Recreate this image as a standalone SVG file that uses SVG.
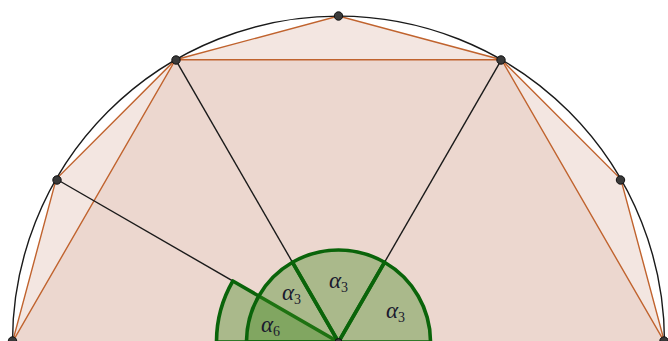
<svg xmlns="http://www.w3.org/2000/svg" width="668" height="341" viewBox="0 0 668 341">
<style>
.edge{stroke:#c0632e;stroke-width:1.4;fill:none}
.radius{stroke:#1a1a1a;stroke-width:1.4;fill:none}
.sector{fill:#3e8a1e;fill-opacity:0.38;stroke:#0a640a;stroke-width:3.6;stroke-linejoin:round}
.pt{fill:#3a3a3a;stroke:#111;stroke-width:1}
.lbl{font-family:"Liberation Serif","DejaVu Serif",serif;font-style:italic;font-size:23px;fill:#1a1a2e}
.sub{font-size:14px;font-style:normal}
</style>
<rect width="668" height="341" fill="#ffffff"/>
<g id="dodecagon">
<polygon points="12.5,342 56.2,179 175.5,59.7 338.5,16 501.5,59.7 620.8,179 664.5,342" fill="#f3e6e1"/>
</g>
<g id="hexagon">
<polygon points="12.5,342 175.5,59.7 501.5,59.7 664.5,342" fill="#ecd7cf"/>
</g>
<g id="connectors">
<polyline class="edge" points="12.5,342 56.2,179 175.5,59.7 338.5,16 501.5,59.7 620.8,179 664.5,342"/>
<polyline class="edge" points="12.5,342 175.5,59.7 501.5,59.7 664.5,342"/>
<path d="M12.5,342 A326,326 0 0 1 664.5,342" fill="none" stroke="#1a1a1a" stroke-width="1.4"/>
<line class="radius" x1="338.5" y1="342" x2="56.2" y2="179"/>
<line class="radius" x1="338.5" y1="342" x2="175.5" y2="59.7"/>
<line class="radius" x1="338.5" y1="342" x2="501.5" y2="59.7"/>
</g>
<g id="sector-a6">
<path class="sector" d="M338.5,342 L232.85,281 A122,122 0 0 0 216.5,342 Z"/>
</g>
<g id="sector-a3-left">
<path class="sector" d="M338.5,342 L292.5,262.3 A92,92 0 0 0 246.5,342 Z"/>
</g>
<g id="sector-a3-mid">
<path class="sector" d="M338.5,342 L384.5,262.3 A92,92 0 0 0 292.5,262.3 Z"/>
</g>
<g id="sector-a3-right">
<path class="sector" d="M338.5,342 L430.5,342 A92,92 0 0 0 384.5,262.3 Z"/>
</g>
<g id="labels">
<text class="lbl" x="282" y="300">α<tspan class="sub" dy="4">3</tspan></text>
<text class="lbl" x="329" y="288">α<tspan class="sub" dy="4">3</tspan></text>
<text class="lbl" x="386" y="318">α<tspan class="sub" dy="4">3</tspan></text>
<text class="lbl" x="261" y="332">α<tspan class="sub" dy="4">6</tspan></text>
</g>
<g id="points">
<circle class="pt" cx="12.5" cy="341" r="4.2"/>
<circle class="pt" cx="57" cy="180" r="4.2"/>
<circle class="pt" cx="176" cy="60" r="4.2"/>
<circle class="pt" cx="338.5" cy="16" r="4.2"/>
<circle class="pt" cx="501" cy="60" r="4.2"/>
<circle class="pt" cx="620.5" cy="180" r="4.2"/>
<circle class="pt" cx="664" cy="341" r="4.2"/>
<circle class="pt" cx="338.5" cy="342" r="3.5"/>
</g>
</svg>
